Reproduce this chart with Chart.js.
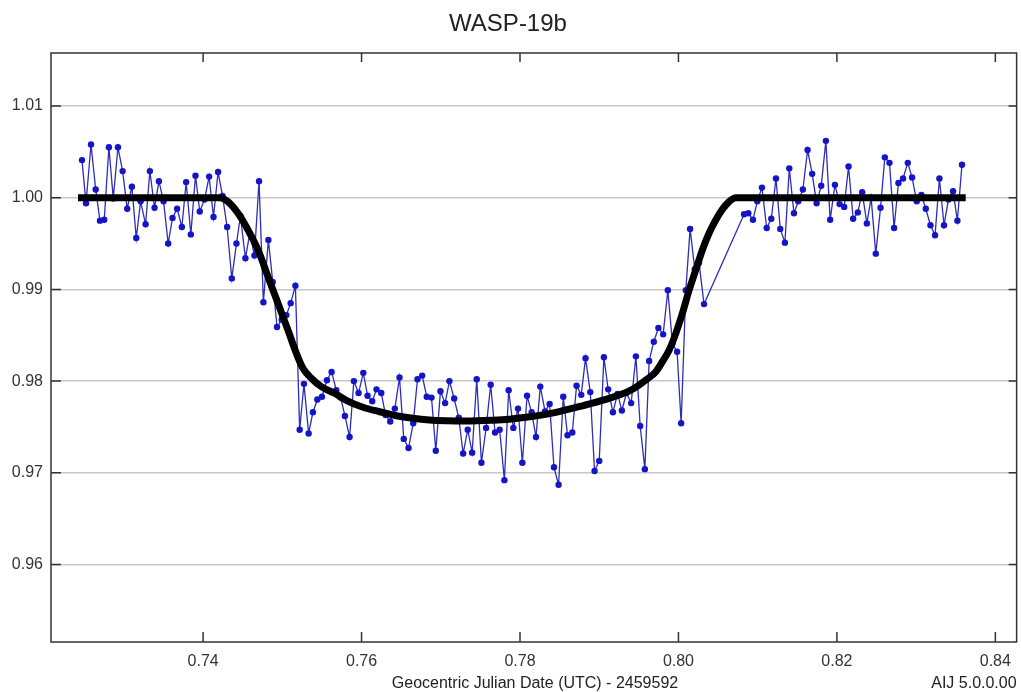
<!DOCTYPE html>
<html>
<head>
<meta charset="utf-8">
<title>WASP-19b</title>
<script src="https://cdn.jsdelivr.net/npm/chart.js@4.4.1/dist/chart.umd.min.js"></script>
<style>
  html, body { margin: 0; padding: 0; background: #fff; }
  #wrap { width: 1021px; height: 692px; position: relative; }
</style>
</head>
<body>
<div id="wrap"><canvas id="chart"></canvas></div>
<script>
const obsTime = [
  0.72471, 0.72522, 0.72585, 0.72644, 0.72698, 0.72752, 0.72811, 0.72866, 0.72925, 0.72984,
  0.73042, 0.73101, 0.73156, 0.73211, 0.73274, 0.73328, 0.73387, 0.73442, 0.73501, 0.73559,
  0.73614, 0.73672, 0.73732, 0.73786, 0.73845, 0.73904, 0.73958, 0.74018, 0.74076, 0.74131,
  0.74189, 0.74245, 0.74303, 0.74362, 0.74421, 0.74471, 0.74534, 0.74589, 0.74648, 0.74706,
  0.74761, 0.74824, 0.74879, 0.74933, 0.74992, 0.75051, 0.75105, 0.75165,
  0.75219, 0.75273, 0.75332, 0.75386, 0.75442, 0.75500, 0.75563, 0.75622, 0.75681, 0.75736,
  0.75790, 0.75849, 0.75903, 0.75962, 0.76022, 0.76076, 0.76135, 0.76189, 0.76249, 0.76303,
  0.76362, 0.76420, 0.76479, 0.76533, 0.76593, 0.76652, 0.76706, 0.76765, 0.76823, 0.76883,
  0.76937, 0.76996, 0.77055, 0.77109, 0.77169, 0.77227, 0.77282, 0.77340, 0.77396, 0.77454,
  0.77513, 0.77572, 0.77630, 0.77685, 0.77743, 0.77803, 0.77857, 0.77916, 0.77975, 0.78030,
  0.78089, 0.78147, 0.78202, 0.78256, 0.78316, 0.78374, 0.78429, 0.78487, 0.78546, 0.78600,
  0.78660, 0.78714, 0.78773, 0.78827, 0.78887, 0.78941, 0.79000, 0.79059, 0.79113, 0.79173,
  0.79231, 0.79286, 0.79344, 0.79403, 0.79463, 0.79517, 0.79576, 0.79630, 0.79689,
  0.79747, 0.79807, 0.79866, 0.79924, 0.79983, 0.80034, 0.80093, 0.80147, 0.80206, 0.80260,
  0.80323,
  0.80828, 0.80882, 0.80941, 0.80995, 0.81054, 0.81114, 0.81172, 0.81231, 0.81285, 0.81344,
  0.81399, 0.81458, 0.81512, 0.81571, 0.81630, 0.81688, 0.81744, 0.81802, 0.81861, 0.81915,
  0.81975, 0.82034, 0.82092, 0.82147, 0.82205, 0.82264, 0.82319, 0.82378, 0.82432, 0.82491,
  0.82551, 0.82605, 0.82664, 0.82722, 0.82777, 0.82835, 0.82895, 0.82949, 0.83008, 0.83067,
  0.83122, 0.83181, 0.83239, 0.83294, 0.83352, 0.83408, 0.83466, 0.83521, 0.83579
];
const obsFlux = [
  1.0041, 0.9994, 1.0058, 1.0009, 0.9975, 0.9976, 1.0055, 0.9999, 1.0055, 1.0029,
  0.9988, 1.0012, 0.9956, 0.9996, 0.9971, 1.0029, 0.9989, 1.0018, 0.9996, 0.9950,
  0.9978, 0.9988, 0.9968, 1.0017, 0.9960, 1.0024, 0.9985, 0.9998, 1.0023, 0.9979,
  1.0028, 1.0002, 0.9968, 0.9912, 0.9950, 0.9980, 0.9934, 0.9961, 0.9937, 1.0018,
  0.9886, 0.9954, 0.9908, 0.9859, 0.9867, 0.9872, 0.9885, 0.9904,
  0.9747, 0.9797, 0.9743, 0.9766, 0.9780, 0.9783, 0.9801, 0.9810, 0.9790, 0.9782,
  0.9762, 0.9739, 0.9800, 0.9787, 0.9809, 0.9784, 0.9778, 0.9791, 0.9787, 0.9763,
  0.9756, 0.9770, 0.9804, 0.9737, 0.9727, 0.9754, 0.9802, 0.9806, 0.9783, 0.9782,
  0.9724, 0.9789, 0.9776, 0.9800, 0.9781, 0.9760, 0.9721, 0.9747, 0.9722, 0.9802,
  0.9711, 0.9749, 0.9796, 0.9744, 0.9747, 0.9692, 0.9790, 0.9749, 0.9770, 0.9711,
  0.9784, 0.9766, 0.9739, 0.9794, 0.9767, 0.9775, 0.9706, 0.9687, 0.9783, 0.9741,
  0.9744, 0.9795, 0.9785, 0.9825, 0.9788, 0.9702, 0.9713, 0.9826, 0.9791, 0.9766,
  0.9786, 0.9768, 0.9787, 0.9776, 0.9827, 0.9751, 0.9704, 0.9822, 0.9843,
  0.9858, 0.9851, 0.9899, 0.9841, 0.9832, 0.9754, 0.9899, 0.9966, 0.9922, 0.9929,
  0.9884,
  0.9982, 0.9983, 0.9976, 0.9996, 1.0011, 0.9967, 0.9977, 1.0021, 0.9966, 0.9951,
  1.0032, 0.9983, 0.9996, 1.0009, 1.0052, 1.0026, 0.9994, 1.0013, 1.0062, 0.9976,
  1.0014, 0.9993, 0.9990, 1.0034, 0.9977, 0.9984, 1.0006, 0.9972, 1.0000, 0.9939,
  0.9989, 1.0044, 1.0038, 0.9967, 1.0016, 1.0021, 1.0038, 1.0022, 0.9996, 1.0003,
  0.9988, 0.9970, 0.9959, 1.0021, 0.9970, 0.9998, 1.0007, 0.9975, 1.0036
];

// transit model curve
const modelTime = [
  0.72421, 0.74210, 0.74315, 0.74441, 0.74567, 0.74693, 0.74819, 0.74945, 0.75071, 0.75177,
  0.75260, 0.75366, 0.75492, 0.75660, 0.75807, 0.76017, 0.76227, 0.76438, 0.76647, 0.76857,
  0.77068, 0.77320, 0.77655, 0.77866, 0.78076, 0.78285, 0.78496, 0.78706, 0.78916, 0.79126,
  0.79249, 0.79420, 0.79589, 0.79715, 0.79798, 0.79883, 0.79967, 0.80050, 0.80135, 0.80219,
  0.80302, 0.80386, 0.80471, 0.80554, 0.80638, 0.80723, 0.83626
];
const modelFlux = [
  1.0000, 1.0000, 0.99956, 0.99830, 0.99648, 0.99430, 0.99139, 0.98848, 0.98557, 0.98303,
  0.98140, 0.98031, 0.97939, 0.97867, 0.97790, 0.97715, 0.97666, 0.97622, 0.97594, 0.97576,
  0.97568, 0.97565, 0.97574, 0.97585, 0.97605, 0.97632, 0.97668, 0.97713, 0.97760, 0.97812,
  0.97848, 0.97911, 0.98012, 0.98103, 0.98212, 0.98339, 0.98521, 0.98739, 0.98993, 0.99212,
  0.99430, 0.99612, 0.99757, 0.99873, 0.99956, 1.0000, 1.0000
];

const xTicks = [0.74, 0.76, 0.78, 0.80, 0.82, 0.84];
const yTicks = [0.96, 0.97, 0.98, 0.99, 1.00, 1.01];

const titleText = "WASP-19b";
const xTitleText = "Geocentric Julian Date (UTC) - 2459592";
const versionText = "AIJ 5.0.0.00";

const FONT = "'Liberation Sans', Arial, sans-serif";

function toPoints(xs, ys) {
  return xs.map((x, i) => ({ x: x, y: ys[i] }));
}

// frame, inward tick marks and the texts around the plot
const framePlugin = {
  id: 'frame',
  afterDatasetsDraw(chart) {
    const ctx = chart.ctx;
    const a = chart.chartArea;
    const xs = chart.scales.x;
    const ys = chart.scales.y;
    ctx.save();
    ctx.strokeStyle = '#333';
    ctx.lineWidth = 1.5;
    ctx.beginPath();
    for (const v of xTicks) {
      let px = xs.getPixelForValue(v);
      ctx.moveTo(px, a.bottom); ctx.lineTo(px, a.bottom - 10);
      ctx.moveTo(px, a.top); ctx.lineTo(px, a.top + 9);
    }
    for (const v of yTicks) {
      let py = ys.getPixelForValue(v);
      ctx.moveTo(a.left, py); ctx.lineTo(a.left + 10, py);
      ctx.moveTo(a.right, py); ctx.lineTo(a.right - 8, py);
    }
    ctx.stroke();
    ctx.strokeRect(a.left, a.top, a.right - a.left, a.bottom - a.top);

    ctx.fillStyle = '#222';
    ctx.textBaseline = 'alphabetic';
    ctx.font = '24px ' + FONT;
    ctx.textAlign = 'center';
    ctx.fillText(titleText, 508, 31);
    ctx.font = '16px ' + FONT;
    ctx.fillText(xTitleText, 535, 688);
    ctx.textAlign = 'right';
    ctx.fillText(versionText, a.right, 688);
    ctx.restore();
  }
};

window.onload = () => {
  let ctx = document.getElementById("chart").getContext('2d');

  let myChart = new Chart(ctx, {
    type: 'scatter',
    data: {
      datasets: [{
        label: 'Model',
        data: toPoints(modelTime, modelFlux),
        showLine: true,
        borderColor: '#000',
        borderWidth: 7,
        borderCapStyle: 'butt',
        cubicInterpolationMode: 'monotone',
        pointRadius: 0
      }, {
        label: 'WASP-19b',
        data: toPoints(obsTime, obsFlux),
        showLine: true,
        borderColor: 'rgb(45,45,185)',
        borderWidth: 1.3,
        pointRadius: 3.2,
        pointBackgroundColor: 'rgb(20,20,200)',
        pointBorderWidth: 0
      }]
    },
    options: {
      responsive: true,
      maintainAspectRatio: false,
      animation: false,
      layout: { padding: { top: 53, right: 3, left: 0, bottom: 0 } },
      plugins: {
        legend: { display: false },
        title: { display: false },
        tooltip: { enabled: false }
      },
      scales: {
        x: {
          type: 'linear',
          min: 0.7208,
          max: 0.842685,
          afterFit: (scale) => { scale.height = 50; },
          afterBuildTicks: (scale) => { scale.ticks = xTicks.map(v => ({ value: v })); },
          grid: { display: false, drawTicks: false },
          border: { display: false },
          ticks: {
            padding: 10,
            color: '#333',
            font: { family: FONT, size: 16 },
            callback: (v) => v.toFixed(2)
          }
        },
        y: {
          min: 0.95155,
          max: 1.01578,
          afterFit: (scale) => { scale.width = 51; },
          afterBuildTicks: (scale) => { scale.ticks = yTicks.map(v => ({ value: v })); },
          grid: { color: '#c8c8c8', lineWidth: 1.5, drawTicks: false },
          border: { display: false },
          ticks: {
            padding: 8,
            color: '#333',
            font: { family: FONT, size: 16 },
            callback: (v) => v.toFixed(2)
          }
        }
      }
    },
    plugins: [framePlugin]
  });
}
</script>
</body>
</html>
